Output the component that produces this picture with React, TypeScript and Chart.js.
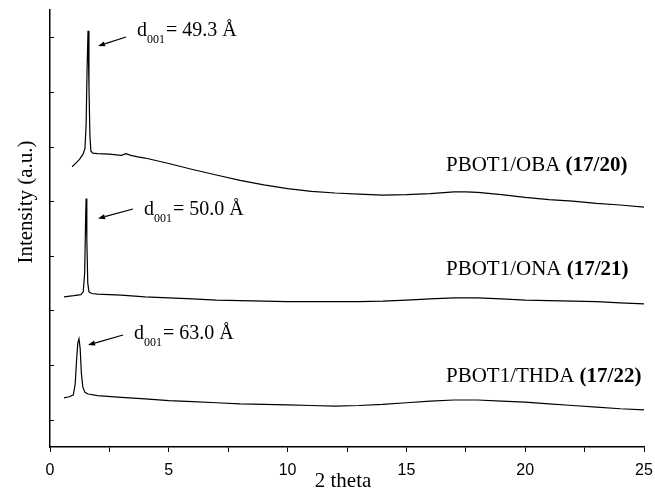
import React, { useEffect, useRef } from "react";
import { Chart, registerables } from "chart.js";

Chart.register(...registerables);

// 2θ positions and intensities (a.u., curves stacked with offsets)
const obaX = [0.93, 1.1, 1.25, 1.39, 1.47, 1.52, 1.56, 1.6, 1.64, 1.68, 1.72, 1.8, 2.0, 2.5, 3.0, 3.2, 3.4, 3.7, 4.0, 5.0, 6.0, 7.0, 8.0, 9.0, 10.0, 11.0, 12.0, 13.0, 14.0, 15.0, 16.0, 17.0, 17.5, 18.0, 19.0, 20.0, 21.0, 22.0, 23.0, 24.0, 25.0];
const obaY = [5.13, 5.2, 5.27, 5.36, 5.46, 5.9, 6.9, 7.62, 6.6, 5.7, 5.42, 5.38, 5.37, 5.36, 5.34, 5.37, 5.34, 5.31, 5.29, 5.19, 5.08, 4.98, 4.88, 4.8, 4.73, 4.68, 4.65, 4.63, 4.61, 4.62, 4.64, 4.67, 4.67, 4.66, 4.62, 4.57, 4.53, 4.5, 4.46, 4.43, 4.39];

const onaX = [0.59, 1.0, 1.3, 1.4, 1.46, 1.5, 1.52, 1.55, 1.59, 1.64, 1.75, 2.0, 3.0, 4.0, 5.0, 6.0, 7.0, 8.0, 9.0, 10.0, 11.0, 12.0, 13.0, 14.0, 15.0, 16.0, 17.0, 18.0, 19.0, 20.0, 21.0, 22.0, 23.0, 24.0, 25.0];
const onaY = [2.75, 2.77, 2.79, 2.84, 3.2, 4.2, 4.55, 3.8, 3.0, 2.84, 2.81, 2.8, 2.78, 2.75, 2.73, 2.71, 2.69, 2.68, 2.67, 2.66, 2.66, 2.66, 2.66, 2.67, 2.69, 2.71, 2.73, 2.73, 2.71, 2.69, 2.68, 2.67, 2.66, 2.64, 2.62];

const thdaX = [0.59, 0.8, 0.98, 1.06, 1.12, 1.17, 1.22, 1.27, 1.32, 1.38, 1.47, 1.6, 2.0, 3.0, 4.0, 5.0, 6.0, 7.0, 8.0, 9.0, 10.0, 11.0, 12.0, 13.0, 14.0, 15.0, 16.0, 17.0, 18.0, 19.0, 20.0, 21.0, 22.0, 23.0, 24.0, 25.0];
const thdaY = [0.9, 0.92, 0.95, 1.15, 1.6, 1.9, 1.98, 1.8, 1.35, 1.1, 1.0, 0.97, 0.94, 0.91, 0.88, 0.85, 0.83, 0.81, 0.79, 0.78, 0.77, 0.76, 0.75, 0.76, 0.78, 0.81, 0.84, 0.86, 0.86, 0.84, 0.82, 0.79, 0.76, 0.73, 0.7, 0.68];

const seriesNames = ["PBOT1/OBA ", "PBOT1/ONA ", "PBOT1/THDA "];
const seriesCodes = ["(17/20)", "(17/21)", "(17/22)"];
const dSpacings = ["49.3", "50.0", "63.0"];
const xTitle = "2 theta";
const yTitle = "Intensity (a.u.)";
const yTickValues = [0.5, 1.5, 2.5, 3.5, 4.5, 5.5, 6.5, 7.5];

const SERIF = '"Liberation Serif", "Times New Roman", serif';

function toPts(xs: number[], ys: number[]) {
  return xs.map((x, i) => ({ x, y: ys[i] }));
}

const overlay = {
  id: "overlay",
  afterDraw(chart: any) {
    const ctx = chart.ctx as CanvasRenderingContext2D;
    const ys = chart.scales.y;
    const area = chart.chartArea;
    ctx.save();
    ctx.strokeStyle = "#000";
    ctx.fillStyle = "#000";
    ctx.lineWidth = 1;
    // inward y ticks
    yTickValues.forEach((v) => {
      const py = Math.round(ys.getPixelForValue(v)) + 0.5;
      ctx.beginPath();
      ctx.moveTo(area.left, py);
      ctx.lineTo(area.left + 4, py);
      ctx.stroke();
    });

    // d-spacing annotations
    const anns = [
      { tx: 137, ty: 36, a: [126, 37, 98, 46] },
      { tx: 144, ty: 215, a: [133, 209, 98, 218.5] },
      { tx: 134, ty: 339, a: [123, 335, 88, 345] },
    ];
    anns.forEach((an, i) => {
      ctx.textAlign = "left";
      ctx.textBaseline = "alphabetic";
      ctx.font = `20px ${SERIF}`;
      ctx.fillText("d", an.tx, an.ty);
      const w1 = ctx.measureText("d").width;
      ctx.font = `12px ${SERIF}`;
      ctx.fillText("001", an.tx + w1, an.ty + 7);
      const w2 = ctx.measureText("001").width;
      ctx.font = `20px ${SERIF}`;
      ctx.fillText("= " + dSpacings[i] + " Å", an.tx + w1 + w2 + 1, an.ty);
      // arrow
      const [x1, y1, x2, y2] = an.a;
      const ang = Math.atan2(y2 - y1, x2 - x1);
      const hl = 7, hw = 2.6;
      const bx = x2 - hl * Math.cos(ang), by = y2 - hl * Math.sin(ang);
      ctx.lineWidth = 1.2;
      ctx.beginPath();
      ctx.moveTo(x1, y1);
      ctx.lineTo(bx, by);
      ctx.stroke();
      ctx.beginPath();
      ctx.moveTo(x2, y2);
      ctx.lineTo(bx + hw * Math.sin(ang), by - hw * Math.cos(ang));
      ctx.lineTo(bx - hw * Math.sin(ang), by + hw * Math.cos(ang));
      ctx.closePath();
      ctx.fill();
    });

    // series labels
    const labelBase = [171, 275, 382];
    labelBase.forEach((b, i) => {
      ctx.textAlign = "left";
      ctx.font = `21px ${SERIF}`;
      ctx.fillText(seriesNames[i], 446, b);
      const w = ctx.measureText(seriesNames[i]).width;
      ctx.font = `bold 21px ${SERIF}`;
      ctx.fillText(seriesCodes[i], 446 + w, b);
    });

    // axis titles
    ctx.font = `21px ${SERIF}`;
    ctx.textAlign = "center";
    ctx.fillText(xTitle, 343, 487);
    ctx.translate(32, 202);
    ctx.rotate(-Math.PI / 2);
    ctx.fillText(yTitle, 0, 0);
    ctx.restore();
  },
};

export default function App() {
  const ref = useRef<HTMLCanvasElement | null>(null);
  useEffect(() => {
    if (!ref.current) return;
    const ds = (data: any[]) => ({
      data,
      borderColor: "#000",
      borderWidth: 1.2,
      pointRadius: 0,
      tension: 0,
      fill: false,
    });
    const chart = new Chart(ref.current, {
      type: "line",
      data: {
        datasets: [ds(toPts(obaX, obaY)), ds(toPts(onaX, onaY)), ds(toPts(thdaX, thdaY))],
      },
      options: {
        animation: false,
        responsive: false,
        maintainAspectRatio: false,
        layout: { padding: { left: 0, top: 10, right: 11, bottom: 0 } },
        plugins: { legend: { display: false }, tooltip: { enabled: false } },
        scales: {
          x: {
            type: "linear",
            min: 0,
            max: 25,
            afterFit: (s: any) => {
              s.height = 46;
              s.paddingLeft = 0;
              s.paddingRight = 0;
            },
            afterBuildTicks: (s: any) => {
              const t = [];
              for (let v = 0; v <= 25; v += 2.5) t.push({ value: v });
              s.ticks = t;
            },
            ticks: {
              autoSkip: false,
              maxRotation: 0,
              color: "#000",
              padding: 9,
              font: { family: '"Liberation Sans", Arial, sans-serif', size: 16 },
              callback: (v: any) => (Number(v) % 5 === 0 ? String(v) : ""),
            },
            grid: { display: true, drawOnChartArea: false, drawTicks: true, tickLength: 5, color: "#000", lineWidth: 1 },
            border: { display: true, color: "#000", width: 1.5 },
          },
          y: {
            type: "linear",
            min: 0,
            max: 8,
            afterFit: (s: any) => {
              s.width = 50;
              s.paddingTop = 0;
              s.paddingBottom = 0;
            },
            ticks: { display: false },
            grid: { display: false, drawTicks: false },
            border: { display: true, color: "#000", width: 1.5 },
          },
        },
      },
      plugins: [overlay],
    });
    return () => chart.destroy();
  }, []);
  return (
    <div style={{ position: "absolute", left: 0, top: 0, width: 655, height: 493, background: "#fff" }}>
      <canvas ref={ref} width={655} height={493} style={{ display: "block" }} />
    </div>
  );
}
